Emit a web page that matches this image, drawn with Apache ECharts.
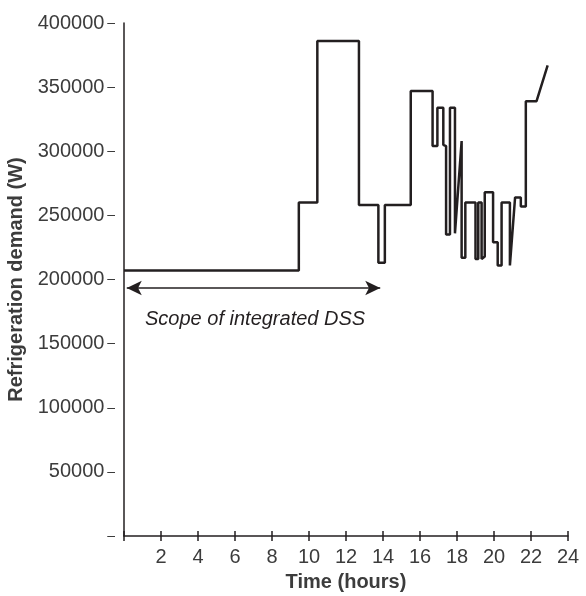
<!DOCTYPE html>
<html>
<head>
<meta charset="utf-8">
<script src="https://cdn.jsdelivr.net/npm/echarts@6/dist/echarts.min.js"></script>
<style>
	html, body { margin: 0; padding: 0; background: #fff; }
	#chart { width: 586px; height: 596px; }
</style>
</head>
<body>
<div id="chart"></div>
<script>
// 时间 (小时) 与 制冷需求 (W)，逐点读自原图
var hours = [ 0, 9.45, 9.45, 10.45, 10.45, 12.7, 12.7, 13.75, 13.75, 14.1,
		14.1, 15.5, 15.5, 16.68, 16.68, 16.94, 16.94, 17.26, 17.26, 17.41,
		17.41, 17.62, 17.62, 17.89, 17.89, 18.25, 18.25, 18.45, 18.45, 19.0,
		19.0, 19.15, 19.15, 19.33, 19.33, 19.5, 19.5, 19.95, 19.95, 20.2,
		20.2, 20.41, 20.41, 20.86, 20.86, 21.14, 21.45, 21.45, 21.72, 21.72,
		22.3, 22.9 ];
var demand = [ 207000, 207000, 260000, 260000, 386000, 386000, 258000, 258000, 213000, 213000,
		258000, 258000, 347000, 347000, 304000, 304000, 334000, 334000, 305000, 304000,
		235000, 235000, 334000, 334000, 236000, 308000, 217000, 217000, 260000, 260000,
		216000, 216000, 260000, 260000, 216000, 218000, 268000, 268000, 229000, 229000,
		211000, 211000, 260000, 260000, 211000, 264000, 264000, 257000, 257000, 339000,
		339000, 367000 ];
var scopeRange = [ 0.15, 13.85 ]; // 集成DSS范围
var scopeLevel = 193400;
var scopeText = 'Scope of integrated DSS';

var lineColor = '#231f20';
var textColor = '#3c3c3c';
var fontName = 'Liberation Sans';

var chart = echarts.init(document.getElementById('chart'));
chart.setOption({
	animation : false,
	grid : {
		left : 124,
		right : 18,
		top : 23,
		bottom : 60,
		outerBoundsMode : 'none'
	},
	xAxis : [ {
		type : 'value',
		min : 0,
		max : 24,
		interval : 2,
		name : 'Time (hours)',
		nameLocation : 'middle',
		nameGap : 36,
		nameTextStyle : {
			fontFamily : fontName,
			fontWeight : 'bold',
			fontSize : 20,
			color : textColor
		},
		splitLine : { show : false },
		axisLine : {
			lineStyle : { color : lineColor, width : 1.5 }
		},
		axisTick : {
			length : 5,
			lineStyle : { color : lineColor, width : 1.5 }
		},
		axisLabel : {
			margin : 11,
			fontFamily : fontName,
			fontSize : 20,
			color : textColor,
			formatter : function(v) {
				return v === 0 ? '' : v;
			}
		}
	}, { // 向内的刻度，做出十字刻度效果
		type : 'value',
		min : 0,
		max : 24,
		interval : 2,
		position : 'bottom',
		splitLine : { show : false },
		axisLine : { show : false },
		axisLabel : { show : false },
		axisTick : {
			inside : true,
			length : 5,
			lineStyle : { color : lineColor, width : 1.5 }
		}
	} ],
	yAxis : {
		type : 'value',
		min : 0,
		max : 400000,
		interval : 50000,
		name : 'Refrigeration demand (W)',
		nameLocation : 'middle',
		nameGap : 84,
		nameTextStyle : {
			fontFamily : fontName,
			fontWeight : 'bold',
			fontSize : 20,
			color : textColor
		},
		splitLine : { show : false },
		axisLine : {
			show : true,
			lineStyle : { color : lineColor, width : 1.5 }
		},
		axisTick : { show : false },
		axisLabel : {
			margin : 9,
			fontFamily : fontName,
			fontSize : 20,
			color : textColor,
			formatter : function(v) {
				return v === 0 ? '{d|\u2013}' : v + '{d|\u2009\u2013}';
			},
			rich : {
				d : {
					fontFamily : fontName,
					fontSize : 14,
					color : textColor
				}
			}
		}
	},
	series : [ {
		type : 'line',
		xAxisIndex : 0,
		symbol : 'none',
		lineStyle : { color : lineColor, width : 2.5 },
		data : hours.map(function(h, i) {
			return [ h, demand[i] ];
		}),
		markLine : {
			silent : true,
			symbol : [ 'arrow', 'arrow' ],
			symbolSize : [ 11, 15 ],
			lineStyle : { color : lineColor, width : 1.5, type : 'solid' },
			label : { show : false },
			data : [ [ {
				coord : [ scopeRange[0], scopeLevel ]
			}, {
				coord : [ scopeRange[1], scopeLevel ]
			} ] ]
		}
	} ],
	graphic : [ {
		type : 'text',
		left : 145,
		top : 309,
		style : {
			text : scopeText,
			fontFamily : fontName,
			fontStyle : 'italic',
			fontSize : 20,
			fill : lineColor
		}
	} ]
});
</script>
</body>
</html>
